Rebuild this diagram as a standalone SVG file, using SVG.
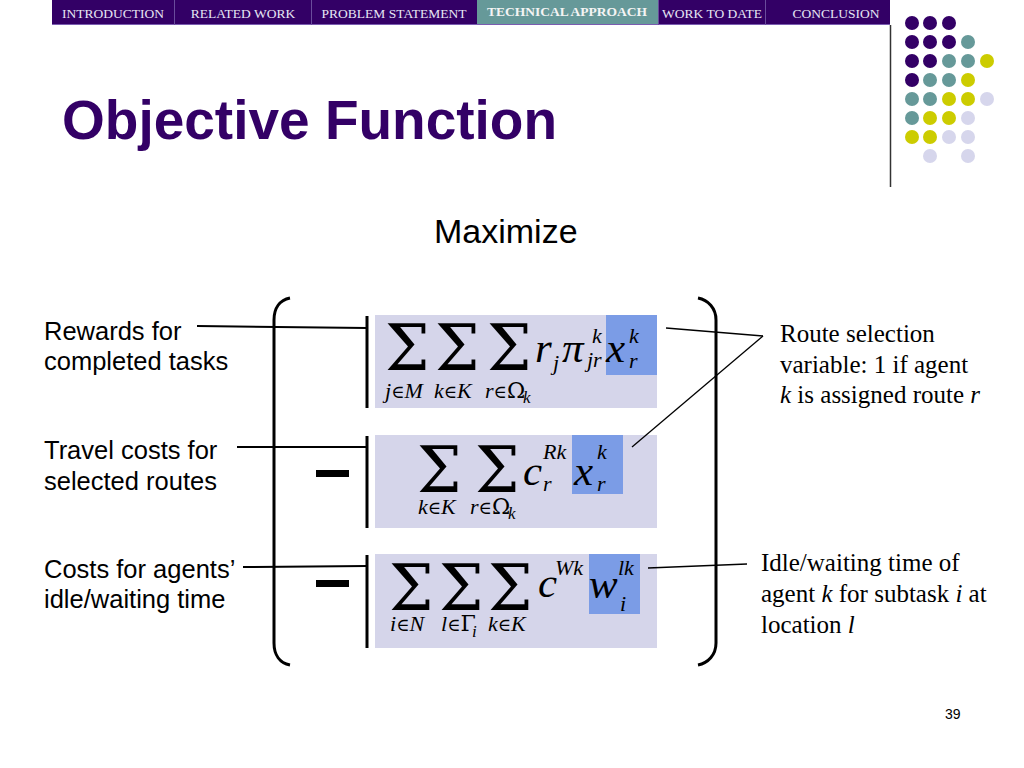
<svg xmlns="http://www.w3.org/2000/svg" width="1024" height="768" viewBox="0 0 1024 768">
<style>
.nav{font-family:"Liberation Serif","Times New Roman",serif;font-size:13.5px;fill:#E6E6F4;text-anchor:middle}
.navsel{font-family:"Liberation Serif","Times New Roman",serif;font-size:13.5px;font-weight:bold;fill:#F4F4F4;text-anchor:middle}
.title{font-family:"Liberation Sans",Arial,sans-serif;font-size:55px;font-weight:bold;fill:#330066}
.sans{font-family:"Liberation Sans",Arial,sans-serif;fill:#000}
.lab{font-family:"Liberation Sans",Arial,sans-serif;font-size:25.5px;fill:#000}
.ann{font-family:"Liberation Serif","Times New Roman",serif;font-size:25px;fill:#000}
.sig{font-family:"DejaVu Serif",serif;font-size:63px;fill:#000}
.m{font-family:"Liberation Serif","Times New Roman",serif;font-style:italic;font-size:43px;fill:#000}
.s{font-family:"Liberation Serif","Times New Roman",serif;font-style:italic;font-size:22px;fill:#000}
.ss{font-family:"Liberation Serif","Times New Roman",serif;font-style:italic;font-size:17px;fill:#000}
.g{font-family:"DejaVu Serif",serif;font-style:normal}
.e{font-family:"DejaVu Serif",serif;font-style:normal;font-size:18px}
.box{fill:#D5D5EA}
.hl{fill:#7B9CE6}
.conn{stroke:#000;fill:none}
.P{fill:#330066}.T{fill:#669999}.Y{fill:#CCCC00}.L{fill:#D6D6EC}
</style>

<g id="navbar">
<rect x="52" y="0" width="838" height="25" fill="#330066"/>
<rect x="477" y="0" width="181" height="25" fill="#669999"/>
<line x1="52" y1="24.5" x2="890" y2="24.5" stroke="#7A5CB0" stroke-width="1"/>
<g stroke="#6A4C9C" stroke-width="1">
<line x1="174.5" y1="0" x2="174.5" y2="25"/>
<line x1="311.5" y1="0" x2="311.5" y2="25"/>
<line x1="658.5" y1="0" x2="658.5" y2="25"/>
<line x1="765.5" y1="0" x2="765.5" y2="25"/>
</g>
<text class="nav" x="113" y="18">INTRODUCTION</text>
<text class="nav" x="243" y="18">RELATED WORK</text>
<text class="nav" x="394" y="18">PROBLEM STATEMENT</text>
<text class="navsel" x="567" y="16">TECHNICAL APPROACH</text>
<text class="nav" x="712" y="18">WORK TO DATE</text>
<text class="nav" x="836" y="18">CONCLUSION</text>
</g>

<line x1="890.5" y1="25" x2="890.5" y2="187" stroke="#333" stroke-width="1.5"/>

<g id="dots">
<circle class="P" cx="912" cy="23" r="7"/><circle class="P" cx="930" cy="23" r="7"/><circle class="P" cx="949" cy="23" r="7"/>
<circle class="P" cx="912" cy="42" r="7"/><circle class="P" cx="930" cy="42" r="7"/><circle class="P" cx="949" cy="42" r="7"/><circle class="T" cx="968" cy="42" r="7"/>
<circle class="P" cx="912" cy="61" r="7"/><circle class="P" cx="930" cy="61" r="7"/><circle class="T" cx="949" cy="61" r="7"/><circle class="T" cx="968" cy="61" r="7"/><circle class="Y" cx="987" cy="61" r="7"/>
<circle class="P" cx="912" cy="80" r="7"/><circle class="T" cx="930" cy="80" r="7"/><circle class="T" cx="949" cy="80" r="7"/><circle class="Y" cx="968" cy="80" r="7"/>
<circle class="T" cx="912" cy="99" r="7"/><circle class="T" cx="930" cy="99" r="7"/><circle class="Y" cx="949" cy="99" r="7"/><circle class="Y" cx="968" cy="99" r="7"/><circle class="L" cx="987" cy="99" r="7"/>
<circle class="T" cx="912" cy="118" r="7"/><circle class="Y" cx="930" cy="118" r="7"/><circle class="Y" cx="949" cy="118" r="7"/><circle class="L" cx="968" cy="118" r="7"/>
<circle class="Y" cx="912" cy="137" r="7"/><circle class="Y" cx="930" cy="137" r="7"/><circle class="L" cx="949" cy="137" r="7"/><circle class="L" cx="968" cy="137" r="7"/>
<circle class="L" cx="930" cy="156" r="7"/><circle class="L" cx="968" cy="156" r="7"/>
</g>

<text class="title" x="62" y="139">Objective Function</text>
<text class="sans" x="434" y="243" font-size="34">Maximize</text>

<g id="parens" stroke="#000" stroke-width="3" fill="none">
<path d="M290,298 C280,300 274,308 274,320 V643 C274,655 280,663 290,665"/>
<path d="M698,298 C708,300 716,308 716,320 V643 C716,655 708,663 698,665"/>
</g>

<g id="minus">
<rect x="316" y="470" width="33" height="7" fill="#000"/>
<rect x="316" y="580" width="33" height="7" fill="#000"/>
</g>

<g id="term-rewards">
<rect class="box" x="375" y="315" width="282" height="93"/>
<rect class="hl" x="606" y="315" width="51" height="60"/>
<text class="sig" x="385" y="370">Σ</text>
<text class="sig" x="435" y="370">Σ</text>
<text class="sig" x="487" y="370">Σ</text>
<text class="s" x="385" y="398">j<tspan class="e">∈</tspan>M</text>
<text class="s" x="434" y="398">k<tspan class="e">∈</tspan>K</text>
<text class="s" x="485" y="398">r<tspan class="e">∈</tspan><tspan class="g">Ω</tspan></text>
<text class="ss" x="523" y="403">k</text>
<text class="m" x="535" y="362">r</text>
<text class="s" x="553" y="370">j</text>
<text class="m" x="562" y="362" font-size="46">π</text>
<text class="s" x="592" y="343">k</text>
<text class="s" x="587" y="367">jr</text>
<text class="m" x="606" y="362">x</text>
<text class="s" x="629" y="343">k</text>
<text class="s" x="629" y="368">r</text>
</g>

<g id="term-travel">
<rect class="box" x="375" y="435" width="282" height="93"/>
<rect class="hl" x="572" y="435" width="51" height="59"/>
<text class="sig" x="417" y="492">Σ</text>
<text class="sig" x="475" y="492">Σ</text>
<text class="s" x="418" y="514">k<tspan class="e">∈</tspan>K</text>
<text class="s" x="470" y="514">r<tspan class="e">∈</tspan><tspan class="g">Ω</tspan></text>
<text class="ss" x="508" y="519">k</text>
<text class="m" x="523" y="485">c</text>
<text class="s" x="543" y="459">Rk</text>
<text class="s" x="543" y="491">r</text>
<text class="m" x="574" y="485">x</text>
<text class="s" x="597" y="459">k</text>
<text class="s" x="597" y="491">r</text>
</g>

<g id="term-idle">
<rect class="box" x="375" y="554" width="282" height="94"/>
<rect class="hl" x="589" y="554" width="51" height="60"/>
<text class="sig" x="389" y="610">Σ</text>
<text class="sig" x="439" y="610">Σ</text>
<text class="sig" x="488" y="610">Σ</text>
<text class="s" x="390" y="631">i<tspan class="e">∈</tspan>N</text>
<text class="s" x="441" y="631">l<tspan class="e">∈</tspan><tspan class="g">Γ</tspan></text>
<text class="ss" x="472" y="637">i</text>
<text class="s" x="488" y="631">k<tspan class="e">∈</tspan>K</text>
<text class="m" x="538" y="597">c</text>
<text class="s" x="555" y="575">Wk</text>
<text class="m" x="589" y="598">w</text>
<text class="s" x="618" y="575">lk</text>
<text class="s" x="620" y="611">i</text>
</g>

<g id="label-rewards">
<text class="lab" x="44" y="340">Rewards for</text>
<text class="lab" x="44" y="370">completed tasks</text>
</g>
<g id="label-travel">
<text class="lab" x="44" y="459">Travel costs for</text>
<text class="lab" x="44" y="490">selected routes</text>
</g>
<g id="label-idle">
<text class="lab" x="44" y="578">Costs for agents’</text>
<text class="lab" x="44" y="608">idle/waiting time</text>
</g>

<g id="note-route">
<text class="ann" x="780" y="342">Route selection</text>
<text class="ann" x="780" y="373">variable: 1 if agent</text>
<text class="ann" x="780" y="403"><tspan font-style="italic">k</tspan> is assigned route <tspan font-style="italic">r</tspan></text>
</g>
<g id="note-idle">
<text class="ann" x="761" y="571">Idle/waiting time of</text>
<text class="ann" x="761" y="602">agent <tspan font-style="italic">k</tspan> for subtask <tspan font-style="italic">i</tspan> at</text>
<text class="ann" x="761" y="633">location <tspan font-style="italic">l</tspan></text>
</g>

<g id="connectors">
<g class="conn" stroke-width="2">
<line x1="197" y1="326" x2="367" y2="328"/>
<line x1="237" y1="447" x2="367" y2="447"/>
<line x1="243" y1="567" x2="367" y2="566"/>
</g>
<g class="conn" stroke-width="3">
<line x1="367" y1="316" x2="367" y2="408"/>
<line x1="367" y1="436" x2="367" y2="528"/>
<line x1="367" y1="555" x2="367" y2="648"/>
</g>
<g class="conn" stroke-width="1.3">
<line x1="666" y1="328" x2="763" y2="336"/>
<line x1="763" y1="336" x2="632" y2="447"/>
<line x1="648" y1="568" x2="747" y2="564"/>
</g>
</g>

<text class="sans" x="945" y="719" font-size="14" fill="#333">39</text>
</svg>
